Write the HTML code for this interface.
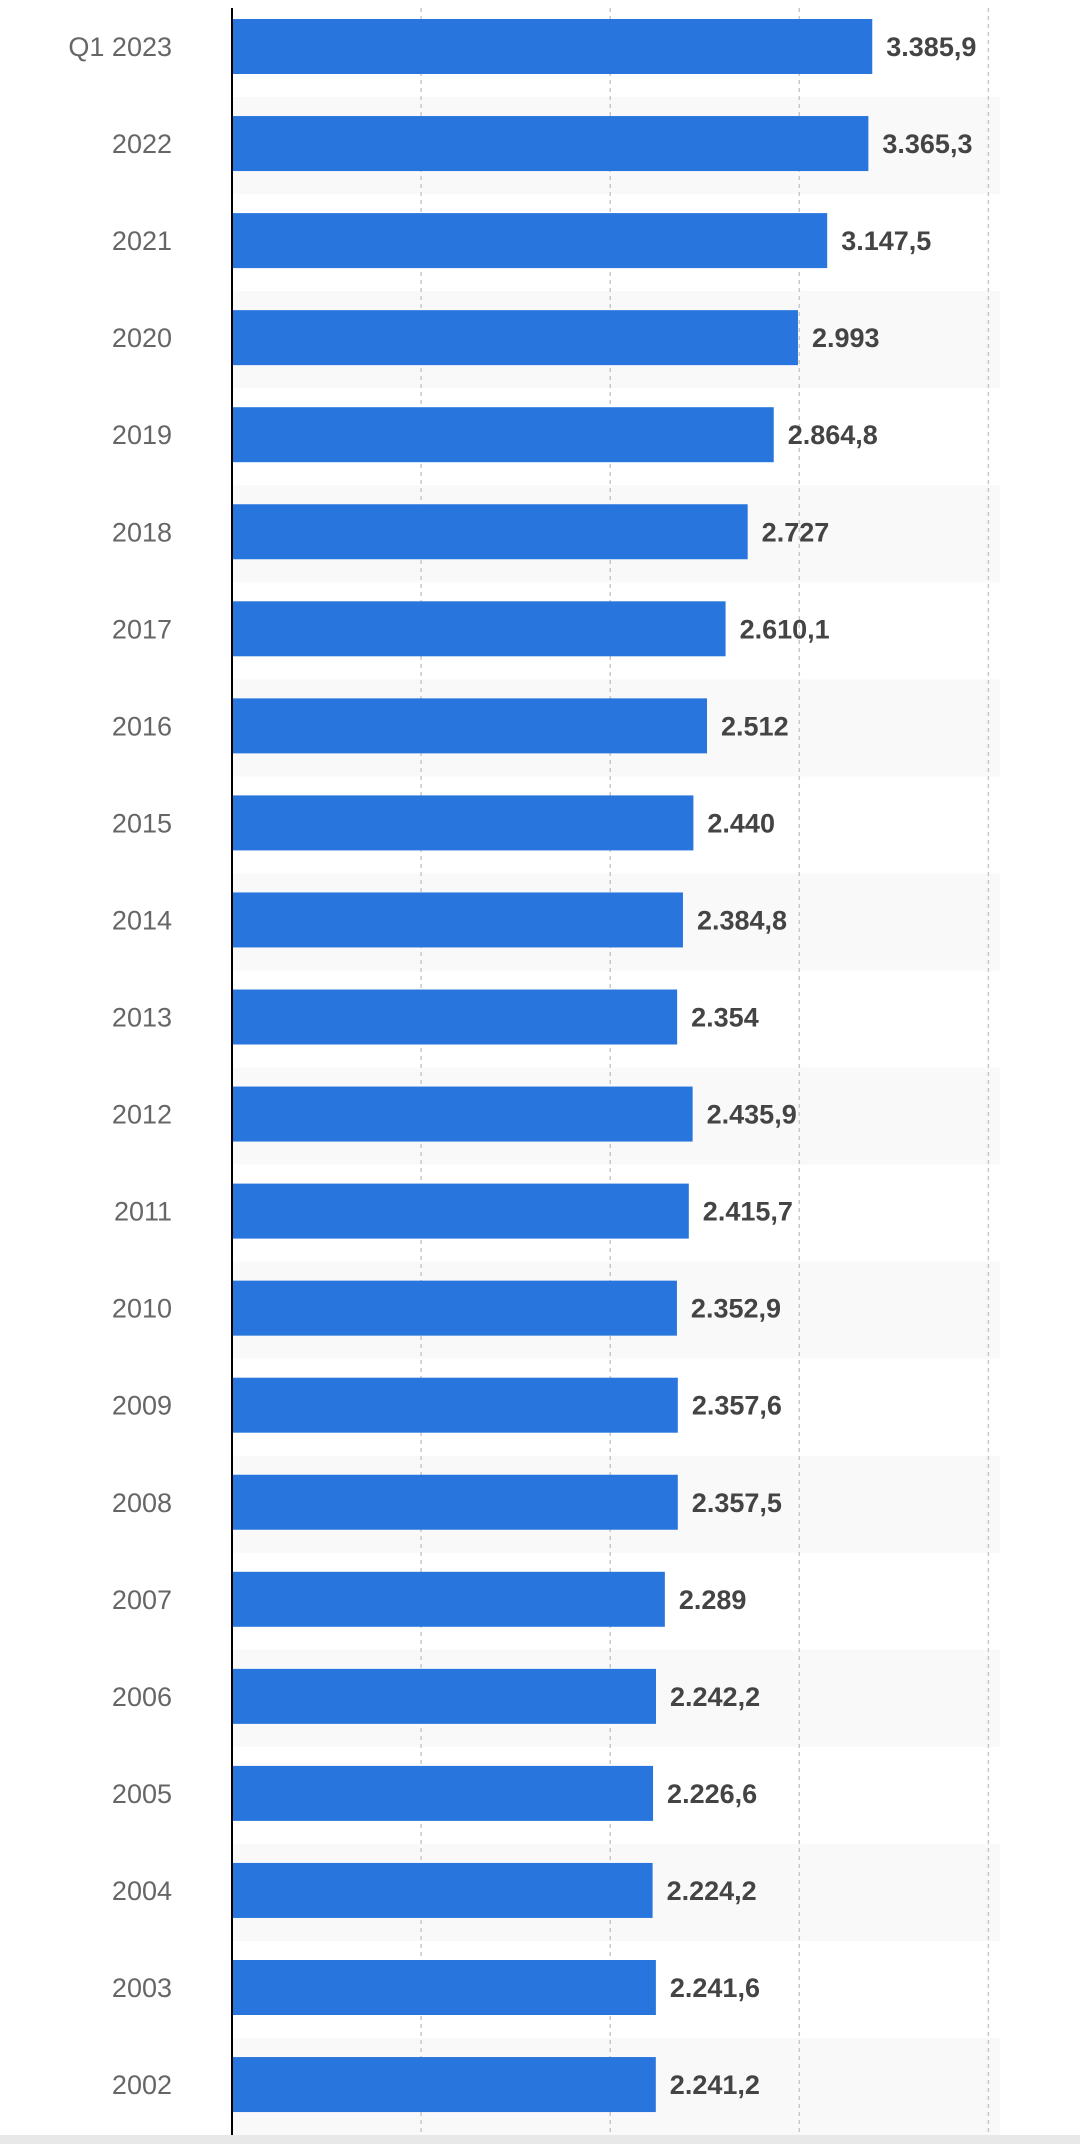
<!DOCTYPE html>
<html><head><meta charset="utf-8"><style>
html,body{margin:0;padding:0;background:#fff;}
body{width:1080px;height:2144px;overflow:hidden;font-family:"Liberation Sans",sans-serif;}
</style></head><body>
<svg id="chart" width="1080" height="2144" xmlns="http://www.w3.org/2000/svg"></svg>
<script>
const categories=["Q1 2023","2022","2021","2020","2019","2018","2017","2016","2015","2014","2013","2012","2011","2010","2009","2008","2007","2006","2005","2004","2003","2002"];
const values=[3385.9,3365.3,3147.5,2993,2864.8,2727,2610.1,2512,2440,2384.8,2354,2435.9,2415.7,2352.9,2357.6,2357.5,2289,2242.2,2226.6,2224.2,2241.6,2241.2];
const valueLabels=["3.385,9","3.365,3","3.147,5","2.993","2.864,8","2.727","2.610,1","2.512","2.440","2.384,8","2.354","2.435,9","2.415,7","2.352,9","2.357,6","2.357,5","2.289","2.242,2","2.226,6","2.224,2","2.241,6","2.241,2"];
const gridTicks=[1000,2000,3000,4000];
const NS="http://www.w3.org/2000/svg";
const svg=document.getElementById('chart');
const x0=232, pxPer=0.1891, topY=0, rowH=97.05;
const xs=v=>x0+v*pxPer;
const ys=i=>topY+i*rowH;
function mk(t,a){const e=document.createElementNS(NS,t);for(const k in a)e.setAttribute(k,a[k]);svg.appendChild(e);return e;}
categories.forEach((c,i)=>{if(i%2===1){const r=mk('rect',{x:x0,y:ys(i),width:1080-x0-80,height:rowH,fill:'#f9f9f9'});

}});
gridTicks.forEach(t=>{const l=mk('line',{x1:xs(t),x2:xs(t),y1:8,y2:2135,stroke:'#c8c8c8','stroke-width':1.5,'stroke-dasharray':'4,4'});

});
categories.forEach((c,i)=>{
const y=ys(i);
const b=mk('rect',{x:x0,y:y+19,width:xs(values[i])-x0,height:55,fill:'#2876dd'});


const t=mk('text',{x:172,y:y+56,'text-anchor':'end','font-size':27,fill:'#666'});t.textContent=c;


const v=mk('text',{x:xs(values[i])+14,y:y+56,'font-size':27,'font-weight':'bold',fill:'#444'});v.textContent=valueLabels[i];


});
const ax=mk('line',{x1:x0,x2:x0,y1:8,y2:2144,stroke:'#000','stroke-width':2});


const bot=mk('rect',{x:0,y:2135,width:1080,height:9,fill:'#e8e8e8'});


</script>
</body></html>
